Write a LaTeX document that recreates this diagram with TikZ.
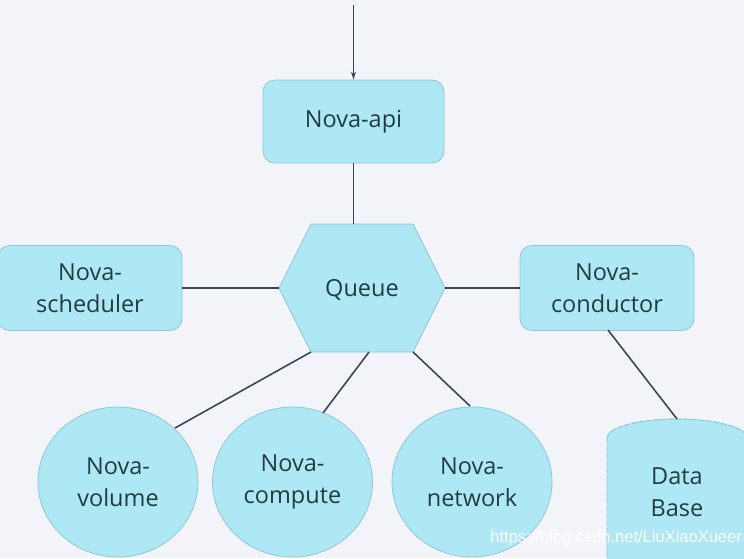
\documentclass[tikz,border=0pt]{standalone}
\usepackage{fontspec}
\setmainfont{Open Sans}
\newfontfamily\wmfont{Liberation Sans}
\usetikzlibrary{arrows.meta,shapes.geometric}
\definecolor{bgc}{HTML}{F3F3FA}
\definecolor{boxfill}{HTML}{AEE8F4}
\definecolor{boxdraw}{HTML}{8FC8D6}
\definecolor{txt}{HTML}{223C42}
\definecolor{ln}{HTML}{3A4854}
\tikzset{
  every node/.style={text=txt, font=\fontsize{23.5}{31.5}\selectfont, align=center},
  rbox/.style={draw=boxdraw, fill=boxfill, line width=0.8pt, rounded corners=12pt, inner sep=0pt},
  circ/.style={ellipse, draw=boxdraw, fill=boxfill, line width=0.8pt, minimum width=160pt, minimum height=150pt, inner sep=0pt},
  conn/.style={draw=ln, line width=1.6pt},
}
\begin{document}
\begin{tikzpicture}[x=1pt,y=-1pt]
\fill[bgc] (0,0) rectangle (744,558);
\useasboundingbox (0,0) rectangle (744,558);
\clip (0,0) rectangle (744,558);
% Nova-api
\node[rbox, minimum width=181pt, minimum height=83pt] (api) at (353.5,121.5) {Nova-api};
\coordinate (in) at (353.5,5);
\draw[conn, line width=1.3pt, -{Stealth[length=8pt,width=5pt]}] (in) -- (api.north);
% Queue hexagon
\coordinate (qtl) at (311,224);
\coordinate (qtr) at (413,224);
\coordinate (qr) at (445,288);
\coordinate (qbr) at (413,352);
\coordinate (qbl) at (311,352);
\coordinate (ql) at (279,288);
\coordinate (qt) at (353.5,224);
\coordinate (qbm) at (369,352);
\filldraw[draw=boxdraw, fill=boxfill, line width=0.8pt] (qtl) -- (qtr) -- (qr) -- (qbr) -- (qbl) -- (ql) -- cycle;
\node (queue) at (362,290) {Queue};
\draw[conn] (api.south) -- (qt);
% side boxes
\node[rbox, minimum width=184pt, minimum height=85pt] (sched) at (90,288) {Nova-\\scheduler};
\node[rbox, minimum width=174pt, minimum height=85pt] (cond) at (607,288) {Nova-\\conductor};
\draw[conn] (sched.east) -- (ql);
\draw[conn] (qr) -- (cond.west);
% circles
\node[circ] (vol) at (118,482) {Nova-\\volume};
\node[circ] (comp) at (292.5,482) {Nova-\\compute};
\node[circ] (net) at (472,482) {Nova-\\network};
\coordinate (volin) at (175,428);
\coordinate (compin) at (323,413);
\coordinate (netin) at (470,406);
\draw[conn] (qbl) -- (volin);
\draw[conn] (qbm) -- (compin);
\draw[conn] (qbr) -- (netin);
% database cylinder
\coordinate (dbtop) at (677,419);
\filldraw[draw=boxdraw, fill=boxfill, line width=0.8pt, dash pattern=on 6pt off 1.5pt]
  (607,438) -- (607,580) -- (747,580) -- (747,438) arc[start angle=0, end angle=-180, x radius=70, y radius=19] -- cycle;
\draw[draw=boxdraw, line width=0.8pt, dash pattern=on 6pt off 1.5pt] (607,438) arc[start angle=180, end angle=360, x radius=70, y radius=19];
\node (db) at (677,492) {Data\\Base};
\coordinate (condfoot) at (608,330);
\draw[conn] (condfoot) -- (dbtop);
% watermark
\node[text=white, font=\fontsize{16.5}{18}\wmfont, anchor=east, inner sep=0pt] (wm) at (742,538) {https://blog.csdn.net/LiuXiaoXueer};
\end{tikzpicture}
\end{document}
